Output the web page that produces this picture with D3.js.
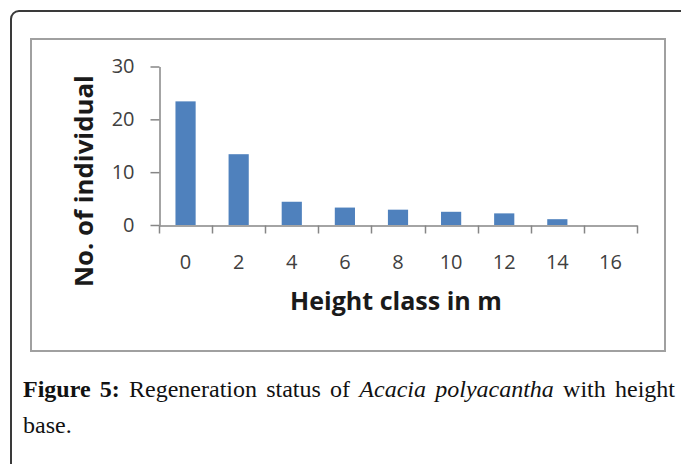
<!DOCTYPE html>
<html>
<head>
<meta charset="utf-8">
<script src="https://cdn.jsdelivr.net/npm/d3@7"></script>
<style>
  html, body { margin: 0; padding: 0; background: #fff; }
  svg { display: block; }
</style>
</head>
<body>
<div id="chart"></div>
<script>
(function() {
  const width = 681;
  const height = 464;

  // ===== data =====
  const categories = ["0", "2", "4", "6", "8", "10", "12", "14", "16"];
  const counts = [23.4, 13.4, 4.4, 3.3, 2.9, 2.5, 2.2, 1.1, 0];
  const yTicks = [0, 10, 20, 30];
  const xTitle = "Height class in m";
  const yTitle = "No. of individual";

  const svg = d3.select("#chart").append("svg")
    .attr("width", width)
    .attr("height", height);

  // outer page frame (only top-left corner visible)
  svg.append("rect")
    .attr("x", 11).attr("y", 11)
    .attr("width", 720).attr("height", 520)
    .attr("rx", 8)
    .attr("fill", "#fff")
    .attr("stroke", "#3a3a3a")
    .attr("stroke-width", 2);

  // chart box
  svg.append("rect")
    .attr("x", 31).attr("y", 39)
    .attr("width", 634).attr("height", 312)
    .attr("fill", "#fff")
    .attr("stroke", "#a0a0a0")
    .attr("stroke-width", 2);

  const x = d3.scaleBand().domain(categories).range([159, 637]).padding(0);
  const y = d3.scaleLinear().domain([0, 30]).range([225, 66.5]);

  const axisColor = "#868686";

  // y axis
  const gy = svg.append("g")
    .attr("transform", "translate(159.5,0)")
    .call(d3.axisLeft(y).tickValues(yTicks).tickSize(9).tickSizeOuter(0).tickPadding(16));
  gy.selectAll("path, line").attr("stroke", axisColor).attr("stroke-width", 1.5);
  gy.selectAll("text")
    .attr("fill", "#404040")
    .style("font-family", "'Open Sans', sans-serif")
    .style("font-size", "20px");

  // x axis: labels from the band scale, tick marks on band edges
  const gx = svg.append("g")
    .attr("transform", "translate(0,225.5)")
    .call(d3.axisBottom(x).tickSize(0).tickPadding(29));
  gx.select("path").attr("stroke", axisColor).attr("stroke-width", 1.5);
  gx.selectAll("text")
    .attr("fill", "#404040")
    .style("font-family", "'Open Sans', sans-serif")
    .style("font-size", "20px");
  const edges = categories.map(c => x(c)).concat([x.range()[1]]);
  gx.selectAll("line.edge")
    .data(edges)
    .join("line")
    .attr("class", "edge")
    .attr("x1", d => Math.round(d) + 0.5).attr("x2", d => Math.round(d) + 0.5)
    .attr("y1", 0).attr("y2", 8)
    .attr("stroke", axisColor)
    .attr("stroke-width", 1.5);

  // bars
  const barW = x.bandwidth() * 0.38;
  svg.append("g")
    .selectAll("rect")
    .data(categories.map((c, i) => ({ c: c, v: counts[i] })))
    .join("rect")
    .attr("x", d => x(d.c) + (x.bandwidth() - barW) / 2)
    .attr("y", d => y(d.v))
    .attr("width", barW)
    .attr("height", d => y(0) - y(d.v))
    .attr("fill", "#4f81bd");

  // axis titles, sized to the reference width
  function fitText(sel, target) {
    const len = sel.node().getComputedTextLength();
    sel.style("font-size", (20 * target / len) + "px");
  }

  const xt = svg.append("text")
    .attr("x", 396).attr("y", 310)
    .attr("text-anchor", "middle")
    .attr("fill", "#1a1a1a")
    .style("font-family", "'Open Sans', sans-serif")
    .style("font-weight", "bold")
    .style("font-size", "20px")
    .text(xTitle);
  fitText(xt, 212);

  const yt = svg.append("text")
    .attr("transform", "translate(93,181) rotate(-90)")
    .attr("text-anchor", "middle")
    .attr("fill", "#1a1a1a")
    .style("font-family", "'Open Sans', sans-serif")
    .style("font-weight", "bold")
    .style("font-size", "20px")
    .text(yTitle);
  fitText(yt, 212);

  // caption, first line justified
  const cap = svg.append("text")
    .attr("x", 23).attr("y", 397)
    .attr("fill", "#111")
    .style("font-family", "'Liberation Serif', serif")
    .style("font-size", "24px");
  cap.append("tspan").style("font-weight", "bold").text("Figure 5:");
  cap.append("tspan").text(" Regeneration status of ");
  cap.append("tspan").style("font-style", "italic").text("Acacia polyacantha");
  cap.append("tspan").text(" with height");
  const natural = cap.node().getComputedTextLength();
  cap.attr("word-spacing", Math.max(0, (652 - natural) / 8));

  svg.append("text")
    .attr("x", 23).attr("y", 433)
    .attr("fill", "#111")
    .style("font-family", "'Liberation Serif', serif")
    .style("font-size", "24px")
    .text("base.");
})();
</script>
</body>
</html>
